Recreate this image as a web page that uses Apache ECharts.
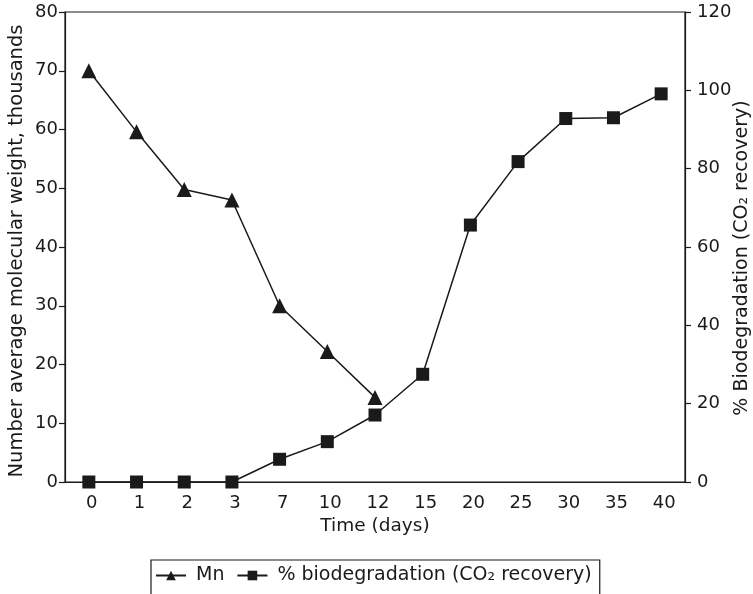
<!DOCTYPE html>
<html>
<head>
<meta charset="utf-8">
<script src="https://cdn.jsdelivr.net/npm/echarts@6/dist/echarts.min.js"></script>
<style>html,body{margin:0;padding:0;background:#fff;}#c{width:753px;height:594px;}</style>
</head>
<body>
<div id="c"></div>
<script>
var categories = ['0','1','2','3','7','10','12','15','20','25','30','35','40'];
var mnValues = [70, 59.6, 49.8, 48, 30, 22.2, 14.4];
var biodegValues = [0, 0, 0, 0, 5.8, 10.3, 17.1, 27.5, 65.6, 81.8, 92.8, 93, 99.1];
var leftTicks = {min: 0, max: 80, interval: 10};
var rightTicks = {min: 0, max: 120, interval: 20};

var INK = '#1a1a1a';
var FONT = 'DejaVu Sans, sans-serif';
var chart = echarts.init(document.getElementById('c'));
var axisLabel = {color: INK, fontSize: 18, fontFamily: FONT};
chart.setOption({
  animation: false,
  backgroundColor: '#fff',
  grid: {left: 65, right: 68, top: 12, bottom: 112, show: true, borderColor: INK, borderWidth: 1.2,
         backgroundColor: 'transparent', outerBoundsMode: 'none', containLabel: false},
  legend: {
    left: 151, top: 560,
    data: ['Mn', '% biodegradation (CO\u2082 recovery)'],
    itemWidth: 30, itemHeight: 12, itemGap: 12,
    borderColor: INK, borderWidth: 1.2,
    padding: [6, 8, 30, 4],
    textStyle: {color: INK, fontSize: 19, fontFamily: FONT, padding: [0, 0, 0, 5]}
  },
  xAxis: [{
    type: 'category', data: categories, boundaryGap: true,
    axisLine: {lineStyle: {color: INK, width: 1.2}},
    axisTick: {length: 5, lineStyle: {color: INK, width: 1.2}},
    axisLabel: Object.assign({margin: 12, padding: [0, 0, 0, 6]}, axisLabel),
    name: 'Time (days)', nameLocation: 'middle', nameGap: 35, nameMoveOverlap: false,
    nameTextStyle: {color: INK, fontSize: 18.5, fontFamily: FONT}
  }, {
    type: 'category', data: categories, boundaryGap: true, position: 'bottom',
    axisLine: {show: false},
    axisTick: {inside: true, length: 5, lineStyle: {color: INK, width: 1.2}},
    axisLabel: {show: false}
  }],
  yAxis: [{
    type: 'value', min: leftTicks.min, max: leftTicks.max, interval: leftTicks.interval,
    axisLine: {show: true, lineStyle: {color: INK, width: 1.2}},
    axisTick: {show: true, length: 6, lineStyle: {color: INK, width: 1.2}},
    splitLine: {show: false},
    axisLabel: Object.assign({margin: 7}, axisLabel),
    name: 'Number average molecular weight, thousands', nameLocation: 'middle', nameGap: 38, nameMoveOverlap: false,
    nameTextStyle: {color: INK, fontSize: 19.5, fontFamily: FONT, padding: [0, 8, 0, 0]}
  }, {
    type: 'value', position: 'right', min: rightTicks.min, max: rightTicks.max, interval: rightTicks.interval,
    axisLine: {show: true, lineStyle: {color: INK, width: 1.2}},
    axisTick: {show: true, length: 6, lineStyle: {color: INK, width: 1.2}},
    splitLine: {show: false},
    axisLabel: Object.assign({margin: 12}, axisLabel),
    name: '% Biodegradation (CO\u2082 recovery)', nameLocation: 'middle', nameGap: 48, nameRotate: 90, nameMoveOverlap: false,
    nameTextStyle: {color: INK, fontSize: 19, fontFamily: FONT, padding: [0, 22, 0, 0]}
  }],
  series: [{
    name: 'Mn', type: 'line', xAxisIndex: 0, yAxisIndex: 0, data: mnValues,
    symbol: 'triangle', symbolSize: 15,
    lineStyle: {color: INK, width: 1.5}, itemStyle: {color: INK}
  }, {
    name: '% biodegradation (CO\u2082 recovery)', type: 'line', xAxisIndex: 0, yAxisIndex: 1, data: biodegValues,
    symbol: 'rect', symbolSize: 13,
    lineStyle: {color: INK, width: 1.5}, itemStyle: {color: INK}
  }]
});
</script>
</body>
</html>
